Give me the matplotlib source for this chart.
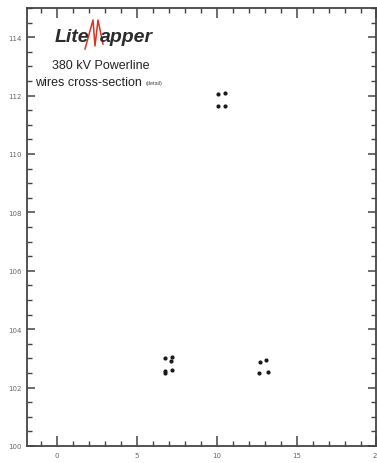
import matplotlib
matplotlib.use("Agg")
import matplotlib.pyplot as plt
from matplotlib.lines import Line2D
from matplotlib.ticker import MultipleLocator

# Conductor positions (distance m, height m)
top_x = [10.06, 10.52, 10.10, 10.52]
top_y = [112.05, 112.08, 111.63, 111.63]
left_x = [6.74, 7.19, 7.11, 6.74, 7.19, 6.74]
left_y = [103.02, 103.04, 102.90, 102.58, 102.61, 102.49]
right_x = [12.73, 13.08, 12.67, 13.18]
right_y = [102.87, 102.95, 102.49, 102.53]

x_ticks = [0, 5, 10, 15, 20]
y_ticks = [100, 102, 104, 106, 108, 110, 112, 114]

W, H = 377, 464
fig = plt.figure(figsize=(W / 100, H / 100), dpi=100)
ax = fig.add_axes([27 / W, (H - 447) / H, (376.5 - 27) / W, (447 - 9) / H])

for xs, ys in [(top_x, top_y), (left_x, left_y), (right_x, right_y)]:
    ax.plot(xs, ys, 'o', color='#1a1a1a', markersize=3.0, markeredgewidth=0)

ax.set_xlim(-1.87, 19.97)
ax.set_ylim(100, 115)
ax.set_xticks(x_ticks)
ax.set_yticks(y_ticks)
ax.xaxis.set_minor_locator(MultipleLocator(1))
ax.yaxis.set_minor_locator(MultipleLocator(0.5))
ax.tick_params(which='both', direction='in', top=True, right=True,
               color='#444444', labelsize=5, labelcolor='#666666', pad=4)
ax.tick_params(which='major', length=7, width=1.1)
ax.tick_params(which='minor', length=3.5, width=1.0)
ax.tick_params(axis='y', which='major', right=True, length=6)
for s in ax.spines.values():
    s.set_color('#444444')
    s.set_linewidth(1.3)

# logo and title
fig.text(55 / W, 1 - 42 / H, "Lite", fontsize=14, fontstyle='italic', fontweight='bold',
         color='#2b2b2b', family='Liberation Sans', va='baseline')
fig.text(100 / W, 1 - 42 / H, "apper", fontsize=14, fontstyle='italic', fontweight='bold',
         color='#2b2b2b', family='Liberation Sans', va='baseline')
mx = [85, 93, 95, 98, 103]
my = [50, 21, 47, 21, 45]
fig.add_artist(Line2D([v / W for v in mx], [1 - v / H for v in my],
                      transform=fig.transFigure, color='#e03020', lw=1.1))
fig.text(101 / W, 1 - 66 / H, "380 kV Powerline", fontsize=9, ha='center', va='center',
         color='#222222', family='Liberation Sans')
fig.text(35 / W, 1 - 83 / H, "wires cross-section", fontsize=9, ha='left', va='center',
         color='#222222', family='Liberation Sans')
fig.text(146 / W, 1 - 84 / H, "(detail)", fontsize=4, ha='left', va='center',
         color='#444444', family='Liberation Sans')

fig.savefig("out.png", dpi=100)
